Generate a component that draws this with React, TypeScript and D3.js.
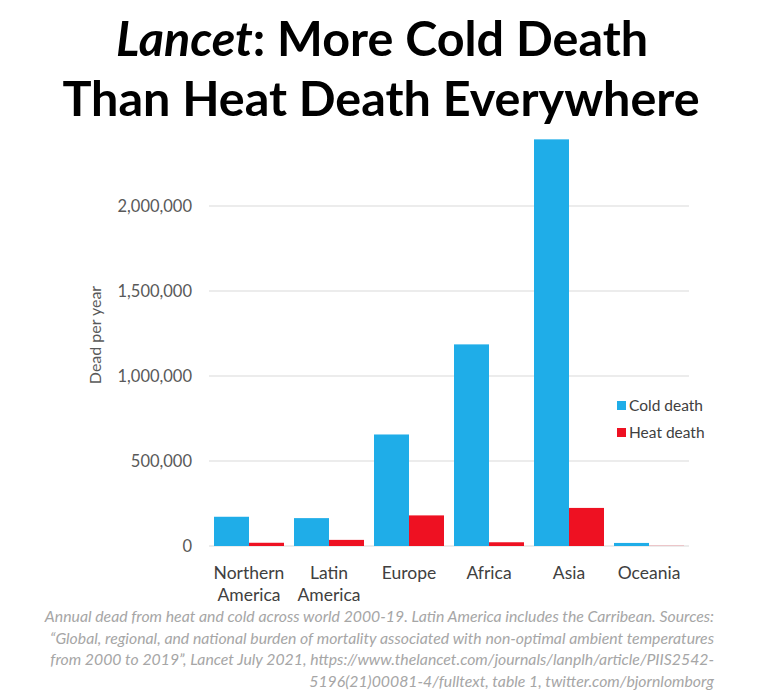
import { useEffect, useRef } from 'react';
import * as d3 from 'd3';

const regions = ['Northern America', 'Latin America', 'Europe', 'Africa', 'Asia', 'Oceania'];
const coldDeaths = [172000, 164000, 656000, 1186000, 2392000, 18000];
const heatDeaths = [19000, 36000, 180000, 22000, 224000, 1000];
const seriesNames = ['Cold death', 'Heat death'];
const yTicks = [0, 500000, 1000000, 1500000, 2000000];
const footnote = [
    'Annual dead from heat and cold across world 2000-19. Latin America includes the Carribean. Sources:',
    '\u201cGlobal, regional, and national burden of mortality associated with non-optimal ambient temperatures',
    'from 2000 to 2019\u201d, Lancet July 2021, https://www.thelancet.com/journals/lanplh/article/PIIS2542-',
    '5196(21)00081-4/fulltext, table 1, twitter.com/bjornlomborg',
];

const App = () => {
    const svgRef = useRef<SVGSVGElement>(null);

    useEffect(() => {
        const svg = d3.select(svgRef.current);
        svg.selectAll('*').remove();

        const width = 774;
        const height = 694;
        const margin = { top: 121, right: 85, bottom: 148, left: 209 };
        const font = 'Lato, "Open Sans", sans-serif';
        const colors = ['#1FADE8', '#EE1122'];

        svg.append('rect').attr('width', width).attr('height', height).attr('fill', '#fff');

        // Title
        const title = svg
            .append('text')
            .attr('text-anchor', 'middle')
            .attr('font-family', font)
            .attr('font-weight', 'bold')
            .attr('font-size', '48.5px')
            .attr('fill', '#000');
        const line1 = title.append('tspan').attr('x', 382).attr('y', 56);
        line1.append('tspan').attr('font-style', 'italic').text('Lancet');
        line1.append('tspan').text(': More Cold Death');
        title.append('tspan').attr('x', 381).attr('y', 116).text('Than Heat Death Everywhere');

        const x = d3
            .scaleBand()
            .domain(regions)
            .range([margin.left, width - margin.right])
            .paddingInner(0.125)
            .paddingOuter(0.0625);

        const xSub = d3.scaleBand().domain(seriesNames).range([0, x.bandwidth()]);

        const y = d3
            .scaleLinear()
            .domain([0, 2500000])
            .range([height - margin.bottom, margin.top]);

        // Gridlines
        svg.append('g')
            .selectAll('line')
            .data(yTicks)
            .enter()
            .append('line')
            .attr('x1', margin.left)
            .attr('x2', width - margin.right)
            .attr('y1', (d) => y(d))
            .attr('y2', (d) => y(d))
            .attr('stroke', '#d9d9d9')
            .attr('stroke-width', 1);

        // Y labels
        svg.append('g')
            .selectAll('text')
            .data(yTicks)
            .enter()
            .append('text')
            .attr('x', 192)
            .attr('y', (d) => y(d))
            .attr('dy', '0.35em')
            .attr('text-anchor', 'end')
            .attr('font-family', font)
            .attr('font-size', '16.5px')
            .attr('fill', '#595959')
            .text((d) => d3.format(',')(d));

        svg.append('text')
            .attr('transform', 'rotate(-90)')
            .attr('x', -335)
            .attr('y', 101)
            .attr('text-anchor', 'middle')
            .attr('font-family', font)
            .attr('font-size', '16px')
            .attr('fill', '#595959')
            .text('Dead per year');

        // Bars
        const groups = svg
            .append('g')
            .selectAll('g')
            .data(regions)
            .enter()
            .append('g')
            .attr('transform', (d) => `translate(${x(d)},0)`);

        groups
            .selectAll('rect')
            .data((d, i) => [
                { key: 'Cold death', value: coldDeaths[i] },
                { key: 'Heat death', value: heatDeaths[i] },
            ])
            .enter()
            .append('rect')
            .attr('x', (d) => xSub(d.key))
            .attr('y', (d) => y(d.value))
            .attr('width', xSub.bandwidth())
            .attr('height', (d) => y(0) - y(d.value))
            .attr('fill', (d, i) => colors[i]);

        // Category labels
        const catLabels = svg
            .append('g')
            .selectAll('text')
            .data(regions)
            .enter()
            .append('text')
            .attr('text-anchor', 'middle')
            .attr('font-family', font)
            .attr('font-size', '17.5px')
            .attr('fill', '#404040');
        catLabels.each(function (d) {
            const words = d.split(' ');
            words.forEach((w, i) => {
                d3.select(this)
                    .append('tspan')
                    .attr('x', x(d) + x.bandwidth() / 2)
                    .attr('y', 579 + i * 22)
                    .text(w);
            });
        });

        // Legend
        const legend = svg.append('g').attr('transform', 'translate(617, 401)');
        seriesNames.forEach((name, i) => {
            const row = legend.append('g').attr('transform', `translate(0, ${i * 27})`);
            row.append('rect').attr('x', 0).attr('y', 0).attr('width', 9).attr('height', 9).attr('fill', colors[i]);
            row.append('text')
                .attr('x', 12)
                .attr('y', 5)
                .attr('dy', '0.35em')
                .attr('font-family', font)
                .attr('font-size', '15.5px')
                .attr('fill', '#404040')
                .text(name);
        });

        // Footnote
        svg.append('g')
            .selectAll('text')
            .data(footnote)
            .enter()
            .append('text')
            .attr('x', 714)
            .attr('y', (d, i) => 622 + i * 21.5)
            .attr('text-anchor', 'end')
            .attr('font-family', font)
            .attr('font-style', 'italic')
            .attr('font-size', '15.8px')
            .attr('fill', '#a6a6a6')
            .text((d) => d);
    }, []);

    return (
        <div>
            <svg ref={svgRef} width={774} height={694} style={{ position: 'absolute', left: 0, top: 0 }}></svg>
        </div>
    );
};

export default App;
